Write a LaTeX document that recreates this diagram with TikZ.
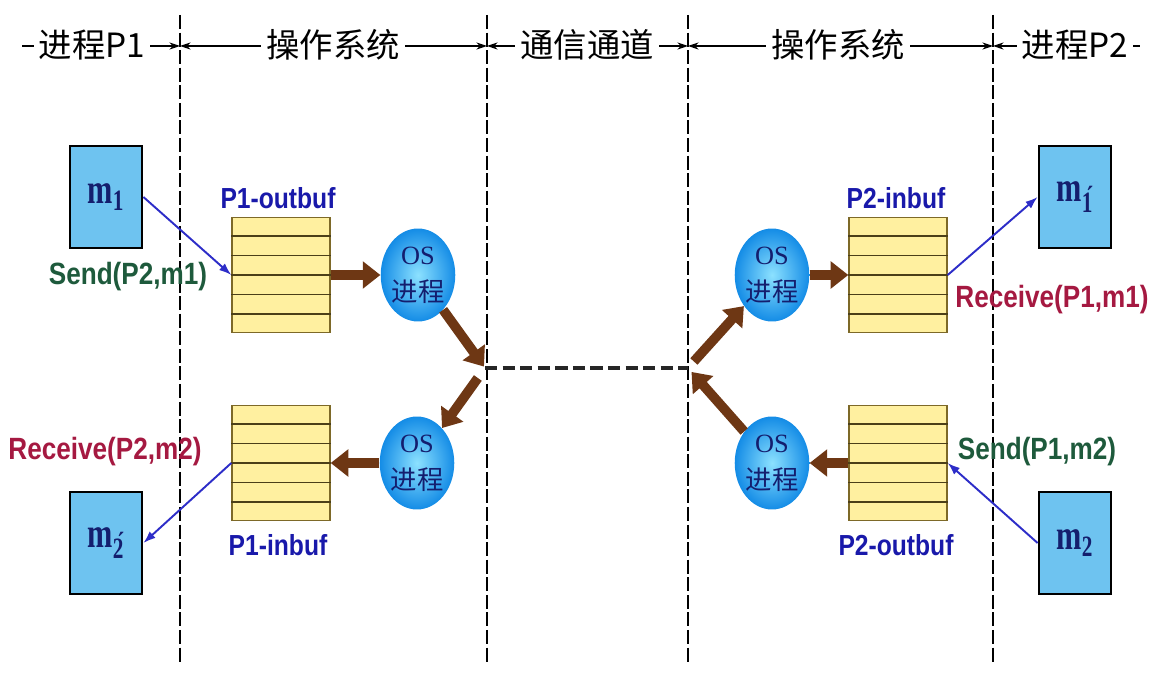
\documentclass[tikz,border=0pt]{standalone}
\usepackage{fontspec}
\setmainfont{Liberation Sans}
\newfontfamily\cjk{Noto Sans CJK SC}
\newfontfamily\lblfont[FakeStretch=0.85]{Liberation Sans}
\newfontfamily\mfont[FakeStretch=0.72]{Liberation Serif}
\newfontfamily\osfont{Liberation Serif}
\usetikzlibrary{arrows.meta,shapes.geometric,calc,positioning}
\definecolor{boxblue}{RGB}{110,195,240}
\definecolor{bufyellow}{RGB}{255,240,160}
\definecolor{bufedge}{RGB}{125,105,40}
\definecolor{osblue}{RGB}{20,140,230}
\definecolor{oslight}{RGB}{140,225,255}
\definecolor{brownarr}{RGB}{110,55,20}
\definecolor{thinblue}{RGB}{45,45,200}
\definecolor{lblblue}{RGB}{25,25,170}
\definecolor{sendgreen}{RGB}{30,90,60}
\definecolor{recvred}{RGB}{165,25,65}
\definecolor{textnavy}{RGB}{20,30,110}
\tikzset{
  mbox/.style={draw=black, line width=1.6pt, fill=boxblue, minimum width=1.44cm, minimum height=2.04cm,
    inner sep=0pt, text=textnavy, font=\mfont\bfseries\fontsize{24}{24}\selectfont},
  buf/.style={draw=bufedge, line width=0.8pt, fill=bufyellow, minimum width=1.96cm, minimum height=2.3cm, inner sep=0pt},
  bufline/.style={draw=bufedge!60!black, line width=1pt},
  osproc/.style={ellipse, inner color=oslight, outer color=osblue, minimum width=1.4cm, minimum height=1.86cm,
    inner sep=0pt, align=center, text=textnavy, font=\fontsize{15}{21}\selectfont},
  bigarr/.style={draw=brownarr, line width=5.5pt, -{Triangle[length=10pt,width=15pt]}},
  thinarr/.style={draw=thinblue, line width=1.1pt, -{Latex[length=7pt,width=5pt]}},
  buflbl/.style={text=lblblue, font=\lblfont\bfseries\fontsize{16.5}{18}\selectfont, inner sep=1pt},
  lbl/.style={font=\lblfont\bfseries\fontsize{17.5}{19}\selectfont, inner sep=1pt},
  divider/.style={line width=0.8pt, dash pattern=on 8pt off 2pt},
  chline/.style={line width=2.2pt, black!85, dash pattern=on 7pt off 3pt},
  hdr/.style={line width=0.6pt},
  hdtxt/.style={fill=white, inner xsep=3pt, inner ysep=1pt, font=\cjk\fontsize{19}{19}\selectfont}
}
\begin{document}
\begin{tikzpicture}[x=0.02cm, y=-0.02cm]
  \useasboundingbox (0,0) rectangle (1156,675);
  % columns
  \foreach \x in {180,487,688,993}
    \draw [divider] (\x,15) -- (\x,665);
  % header
  \coordinate (h0) at (22,46);
  \coordinate (d1) at (180,46);
  \coordinate (d2) at (487,46);
  \coordinate (d3) at (688,46);
  \coordinate (d4) at (993,46);
  \coordinate (h5) at (1140,46);
  \draw [hdr, -{Stealth[length=6pt,width=4pt]}] (h0) -- (d1);
  \draw [hdr, {Stealth[length=6pt,width=4pt]}-{Stealth[length=6pt,width=4pt]}] (d1) -- (d2);
  \draw [hdr, {Stealth[length=6pt,width=4pt]}-{Stealth[length=6pt,width=4pt]}] (d2) -- (d3);
  \draw [hdr, {Stealth[length=6pt,width=4pt]}-{Stealth[length=6pt,width=4pt]}] (d3) -- (d4);
  \draw [hdr, {Stealth[length=6pt,width=4pt]}-] (d4) -- (h5);
  \node [hdtxt] (t1) at (92,45) {进程P1};
  \node [hdtxt] (t2) at (333,45) {操作系统};
  \node [hdtxt] (t3) at (587,45) {通信通道};
  \node [hdtxt] (t4) at (838,45) {操作系统};
  \node [hdtxt] (t5) at (1075,45) {进程P2};
  % messages
  \node [mbox] (m1) at (106,197) {m\textsubscript{1}};
  \node [mbox] (m2b) at (106,543) {m\textsubscript{\'{2}}};
  \node [mbox] (m1b) at (1075,197) {m\textsubscript{\'{1}}};
  \node [mbox] (m2) at (1075,543) {m\textsubscript{2}};
  % buffers
  \node [buf] (p1out) at (281,275) {};
  \node [buf] (p1in) at (281,463) {};
  \node [buf] (p2in) at (898,275) {};
  \node [buf] (p2out) at (898,463) {};
  \foreach \b in {p1out,p1in,p2in,p2out}
    \foreach \k in {1,...,5}
      \draw [bufline] ($(\b.north west)!\k/6!(\b.south west)$) -- ($(\b.north east)!\k/6!(\b.south east)$);
  \node [buflbl] (l1) at (278,198) {P1-outbuf};
  \node [buflbl] (l2) at (278,545) {P1-inbuf};
  \node [buflbl] (l3) at (896,198) {P2-inbuf};
  \node [buflbl] (l4) at (896,545) {P2-outbuf};
  % OS processes
  \node [osproc] (os1) at (418,275) {{\osfont OS}\\{\cjk 进程}};
  \node [osproc] (os2) at (417,463) {{\osfont OS}\\{\cjk 进程}};
  \node [osproc] (os3) at (772,275) {{\osfont OS}\\{\cjk 进程}};
  \node [osproc] (os4) at (772,463) {{\osfont OS}\\{\cjk 进程}};
  % channel
  \coordinate (ch1) at (485,368);
  \coordinate (ch2) at (688,368);
  \draw [chline] (ch1) -- (ch2);
  \draw [bigarr] (p1out) -- (os1);
  \draw [bigarr, shorten >=1pt] (os1) -- (ch1);
  \draw [bigarr, shorten <=7pt] (ch1) -- (os2);
  \draw [bigarr] (os2) -- (p1in);
  \draw [bigarr, shorten <=5pt] (ch2) -- (os3);
  \draw [bigarr, shorten >=3pt] (os4) -- (ch2);
  \draw [bigarr] (os3) -- (p2in);
  \draw [bigarr] (p2out) -- (os4);
  % send / receive
  \draw [thinarr] (m1.east) -- (p1out.west);
  \draw [thinarr] (p1in.west) -- (m2b.east);
  \draw [thinarr] (p2in.east) -- (m1b.west);
  \draw [thinarr] (m2.west) -- (p2out.east);
  \node [lbl, text=sendgreen] (s1) at (128,277) {Send(P2,m1)};
  \node [lbl, text=recvred] (r2) at (105,452) {Receive(P2,m2)};
  \node [lbl, text=recvred] (r1) at (1052,300) {Receive(P1,m1)};
  \node [lbl, text=sendgreen] (s2) at (1037,452) {Send(P1,m2)};
\end{tikzpicture}
\end{document}
